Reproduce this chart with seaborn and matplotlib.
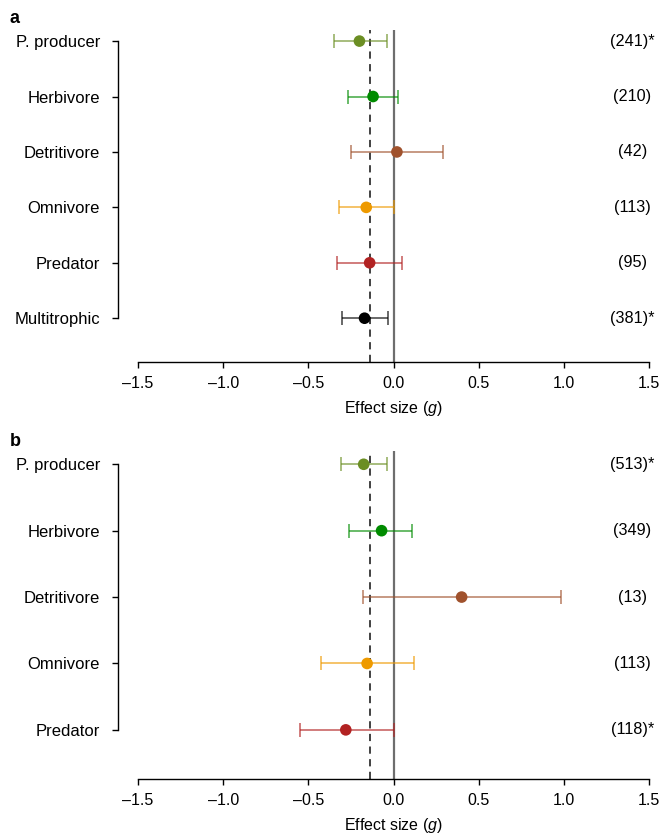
import numpy as np
import pandas as pd
import matplotlib
matplotlib.use("Agg")
import matplotlib.pyplot as plt
import seaborn as sns

# ---- data (panel a) ----
a_labels = ["P. producer", "Herbivore", "Detritivore", "Omnivore", "Predator", "Multitrophic"]
a_mean = [-0.20, -0.12, 0.02, -0.16, -0.14, -0.17]
a_lo = [-0.35, -0.27, -0.25, -0.32, -0.33, -0.30]
a_hi = [-0.04, 0.025, 0.29, 0.00, 0.05, -0.03]
a_n = ["(241)*", "(210)", "(42)", "(113)", "(95)", "(381)*"]
a_ref = -0.14

# ---- data (panel b) ----
b_labels = ["P. producer", "Herbivore", "Detritivore", "Omnivore", "Predator"]
b_mean = [-0.175, -0.07, 0.40, -0.155, -0.28]
b_lo = [-0.31, -0.26, -0.18, -0.425, -0.55]
b_hi = [-0.04, 0.11, 0.985, 0.12, 0.00]
b_n = ["(513)*", "(349)", "(13)", "(113)", "(118)*"]
b_ref = -0.14

colors = {
    "P. producer": "#6b8e23",
    "Herbivore": "#008b00",
    "Detritivore": "#a0522d",
    "Omnivore": "#ee9a00",
    "Predator": "#b22222",
    "Multitrophic": "#000000",
}
xticks = [-1.5, -1.0, -0.5, 0.0, 0.5, 1.0, 1.5]

sns.set_style("ticks")
plt.rcParams["font.family"] = ["Liberation Sans", "DejaVu Sans"]
plt.rcParams["mathtext.fontset"] = "custom"
plt.rcParams["mathtext.rm"] = "Liberation Sans"
plt.rcParams["mathtext.it"] = "Liberation Sans:italic"
plt.rcParams["text.color"] = "black"
plt.rcParams["axes.labelcolor"] = "black"

W, H = 662, 835
fig = plt.figure(figsize=(W / 100, H / 100), dpi=100)


def panel(rect, labels, mean, lo, hi, ns, ref, ylim, letter, letter_y):
    ax = fig.add_axes(rect)
    for s in ["top", "right"]:
        ax.spines[s].set_visible(False)
    ax.spines["left"].set_position(("outward", 14.4))
    pos = np.arange(len(labels))
    df = pd.DataFrame({"cat": labels, "mean": mean, "pos": pos})
    ax.axvline(0, color="#6e6e6e", lw=1.6, zorder=1)
    ax.axvline(ref, color="#333333", lw=1.3, ls=(0, (4, 3)), zorder=1)
    for i, c in enumerate(labels):
        ax.errorbar(mean[i], pos[i], xerr=[[mean[i] - lo[i]], [hi[i] - mean[i]]],
                    fmt="none", ecolor=colors[c], elinewidth=1.1, capsize=5,
                    capthick=1.1, alpha=0.75, zorder=2)
    sns.scatterplot(data=df, x="mean", y="pos", hue="cat", palette=colors,
                    s=70, edgecolor="none", legend=False, ax=ax, zorder=3)
    for i, t in enumerate(ns):
        ax.text(1.403, pos[i], t, ha="center", va="center", fontsize=11.7,
                color="black", clip_on=False)
    ax.set_xlim(-1.5, 1.5)
    ax.set_ylim(*ylim)
    ax.set_yticks(pos)
    ax.set_yticklabels(labels)
    ax.set_xticks(xticks)
    ax.set_xticklabels([f"{v:.1f}".replace("-", "\u2013") for v in xticks])
    ax.set_ylabel("")
    ax.set_xlabel("Effect size ($\\it{g}$)", fontsize=11.5, labelpad=6, color="black")
    ax.spines["left"].set_bounds(0, len(labels) - 1)
    ax.spines["bottom"].set_bounds(-1.5, 1.5)
    for s in ["left", "bottom"]:
        ax.spines[s].set_linewidth(1.0)
        ax.spines[s].set_color("black")
    ax.tick_params(axis="both", length=4, width=1.0, color="black", labelcolor="black")
    ax.tick_params(axis="y", pad=9, labelsize=12)
    ax.tick_params(axis="x", pad=6, labelsize=11.5)
    fig.text(10 / W, 1 - letter_y / H, letter, fontsize=13, fontweight="bold",
             color="black", ha="left", va="baseline")
    return ax


panel([138 / W, 1 - 362 / H, 511 / W, 332 / H], a_labels, a_mean, a_lo, a_hi, a_n,
      a_ref, (5.79, -0.2), "a", 23)
panel([138 / W, 1 - 779 / H, 511 / W, 328 / H], b_labels, b_mean, b_lo, b_hi, b_n,
      b_ref, (4.74, -0.2), "b", 446)

fig.savefig("out.png", dpi=100)
